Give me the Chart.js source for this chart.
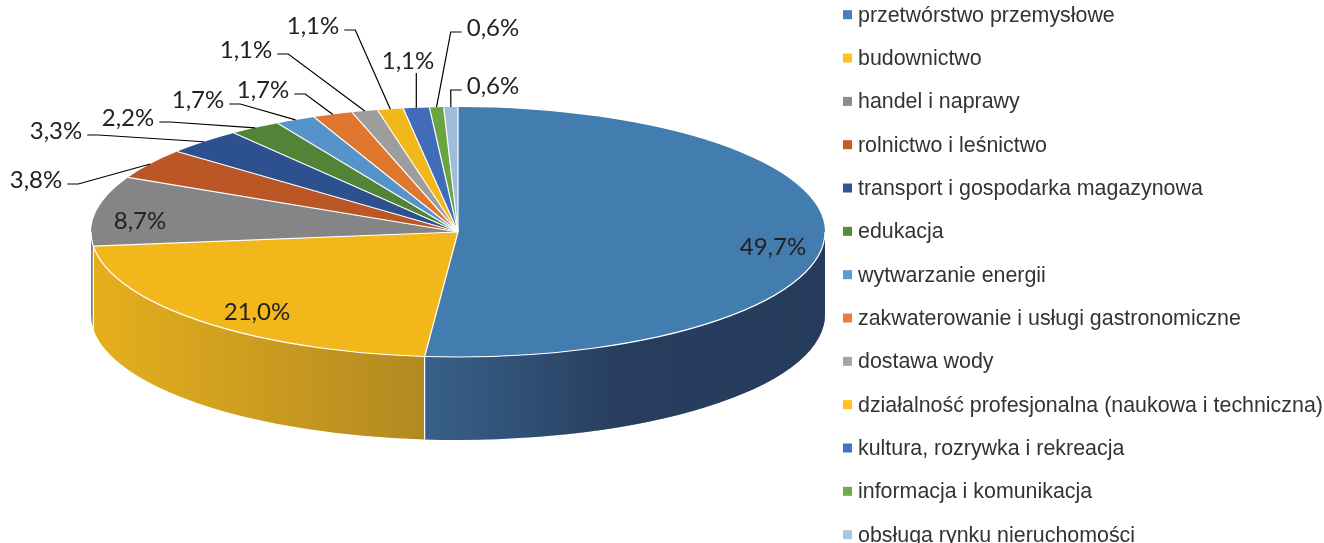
<!DOCTYPE html>
<html lang="pl">
<head>
<meta charset="utf-8">
<title>Struktura branżowa</title>
<script src="https://cdn.jsdelivr.net/npm/chart.js@4.4.1/dist/chart.umd.min.js"></script>
<style>
    html, body { margin: 0; padding: 0; background: #fff; overflow: hidden; }
    #wrap { width: 1324px; height: 543px; position: relative; }
</style>
</head>
<body>
<div id="wrap"><canvas id="pie-canvas"></canvas></div>
<script>
// Dane: udział branż (%)
const categories = [
    'przetwórstwo przemysłowe',
    'budownictwo',
    'handel i naprawy',
    'rolnictwo i leśnictwo',
    'transport i gospodarka magazynowa',
    'edukacja',
    'wytwarzanie energii',
    'zakwaterowanie i usługi gastronomiczne',
    'dostawa wody',
    'działalność profesjonalna (naukowa i techniczna)',
    'kultura, rozrywka i rekreacja',
    'informacja i komunikacja',
    'obsługa rynku nieruchomości'
];
const shares = [49.7, 21.0, 8.7, 3.8, 3.3, 2.2, 1.7, 1.7, 1.1, 1.1, 1.1, 0.6, 0.6];

// Kolory (legenda); górna powierzchnia jest lekko przyciemniona
const colors = ['#4682B8', '#FFC21C', '#8C8C8C', '#C55A28', '#2F5597', '#558B3A', '#5B9BD5',
                '#ED7D31', '#A5A5A5', '#FFC21C', '#4472C4', '#70AD47', '#A8C6E6'];

// Układ: elipsa tortu 3D, etykiety, legenda
const PIE = { cx: 458, cy: 232, rx: 367, ry: 125, depth: 83 };
const labelPos = [
    [773, 246, 'none'], [257, 311, 'none'], [140, 220, 'none'],
    [36, 179, 'left'], [56, 130, 'left'], [128, 117, 'left'],
    [198, 99, 'left'], [263, 89, 'left'], [246, 49, 'left'],
    [313, 25, 'left'], [408, 60, 'down'], [493, 27, 'right'], [493, 85, 'right']
];
const LEGEND = { x: 843, y: 14.7, step: 43.33, box: 9 };

function shade(hex, f){
    const n = parseInt(hex.slice(1), 16);
    const r = Math.round(((n >> 16) & 255) * f);
    const g = Math.round(((n >> 8) & 255) * f);
    const b = Math.round((n & 255) * f);
    return 'rgb(' + r + ',' + g + ',' + b + ')';
}

function edgePoint(a){
    return [PIE.cx + PIE.rx * Math.cos(a), PIE.cy + PIE.ry * Math.sin(a)];
}

// Plugin: ściany boczne, spłaszczenie tortu, etykiety i legenda
const pie3d = {
    id: 'pie3d',
    beforeDatasetsDraw(chart){
        const ctx = chart.ctx;
        const arcs = chart.getDatasetMeta(0).data;

        const left = PIE.cx - PIE.rx, span = 2 * PIE.rx;
        const grad = ctx.createLinearGradient(left, 0, left + span, 0);
        grad.addColorStop(0, 'rgba(30,30,50,0.06)');
        grad.addColorStop((424 - left) / span, 'rgba(30,30,50,0.3)');
        grad.addColorStop((620 - left) / span, 'rgba(20,20,40,0.6)');
        grad.addColorStop(1, 'rgba(20,20,40,0.62)');

        arcs.forEach((arc, i) => {
            const a1 = Math.max(arc.startAngle, 0);
            const a2 = Math.min(arc.endAngle, Math.PI);
            if (a2 <= a1) return;
            ctx.beginPath();
            ctx.ellipse(PIE.cx, PIE.cy, PIE.rx, PIE.ry, 0, a1, a2, false);
            ctx.ellipse(PIE.cx, PIE.cy + PIE.depth, PIE.rx, PIE.ry, 0, a2, a1, true);
            ctx.closePath();
            ctx.fillStyle = shade(colors[i], 0.95);
            ctx.fill();
            ctx.fillStyle = grad;
            ctx.fill();
        });

        // pionowe krawędzie między ścianami
        ctx.strokeStyle = '#ffffff';
        ctx.lineWidth = 1.2;
        arcs.forEach(arc => {
            const a = arc.startAngle;
            if (a > 0 && a < Math.PI){
                const [x, y] = edgePoint(a);
                ctx.beginPath();
                ctx.moveTo(x, y);
                ctx.lineTo(x, y + PIE.depth);
                ctx.stroke();
            }
        });

        // spłaszczenie tortu do elipsy
        const a0 = arcs[0];
        ctx.save();
        ctx.translate(PIE.cx, PIE.cy);
        ctx.scale(PIE.rx / a0.outerRadius, PIE.ry / a0.outerRadius);
        ctx.translate(-a0.x, -a0.y);
    },
    afterDatasetsDraw(chart){
        const ctx = chart.ctx;
        ctx.restore();
        const arcs = chart.getDatasetMeta(0).data;

        ctx.strokeStyle = '#ffffff';
        ctx.lineWidth = 1.2;
        arcs.forEach(arc => {
            const [x, y] = edgePoint(arc.startAngle);
            ctx.beginPath();
            ctx.moveTo(PIE.cx, PIE.cy);
            ctx.lineTo(x, y);
            ctx.stroke();
        });
        ctx.beginPath();
        ctx.ellipse(PIE.cx, PIE.cy, PIE.rx, PIE.ry, 0, 0, Math.PI, false);
        ctx.stroke();
    },
    afterDraw(chart){
        const ctx = chart.ctx;
        const arcs = chart.getDatasetMeta(0).data;

        // etykiety danych
        ctx.save();
        ctx.font = '24px Lato';
        ctx.fillStyle = '#222222';
        ctx.strokeStyle = '#000000';
        ctx.lineWidth = 1.2;
        ctx.textAlign = 'center';
        ctx.textBaseline = 'alphabetic';
        shares.forEach((v, i) => {
            const [tx, ty, kind] = labelPos[i];
            const txt = v.toFixed(1).replace('.', ',') + '%';
            const w = ctx.measureText(txt).width;
            ctx.fillText(txt, tx, ty + 8.5);

            if (kind === 'none') return;
            const arc = arcs[i];
            const [ax, ay] = edgePoint((arc.startAngle + arc.endAngle) / 2);
            ctx.beginPath();
            if (kind === 'left'){
                const x0 = tx + w / 2 + 5;
                ctx.moveTo(x0, ty + 5);
                ctx.lineTo(x0 + 11, ty + 5);
            } else if (kind === 'right'){
                const x0 = tx - w / 2 - 5;
                ctx.moveTo(x0, ty + 5);
                ctx.lineTo(x0 - 11, ty + 5);
            } else {
                ctx.moveTo(ax, ty + 13);
            }
            ctx.lineTo(ax, ay);
            ctx.stroke();
        });
        ctx.restore();

        // legenda
        ctx.save();
        ctx.font = '21.4px "Liberation Sans"';
        ctx.textAlign = 'left';
        ctx.textBaseline = 'middle';
        categories.forEach((name, i) => {
            const y = LEGEND.y + i * LEGEND.step;
            ctx.fillStyle = colors[i];
            ctx.fillRect(LEGEND.x, y - LEGEND.box / 2, LEGEND.box, LEGEND.box);
            ctx.fillStyle = '#333333';
            ctx.fillText(name, LEGEND.x + 15, y + 1);
        });
        ctx.restore();
    }
};

function createPieChart(){
    const ctx = document.getElementById('pie-canvas').getContext('2d');
    new Chart(ctx, {
        type: 'pie',
        data: {
            labels: categories,
            datasets: [{
                data: shares,
                backgroundColor: colors.map(c => shade(c, 0.95)),
                borderWidth: 0,
                clip: false
            }]
        },
        options: {
            responsive: true,
            maintainAspectRatio: false,
            animation: false,
            events: [],
            plugins: {
                legend: { display: false },
                tooltip: { enabled: false }
            }
        },
        plugins: [pie3d]
    });
}

createPieChart();
</script>
</body>
</html>
